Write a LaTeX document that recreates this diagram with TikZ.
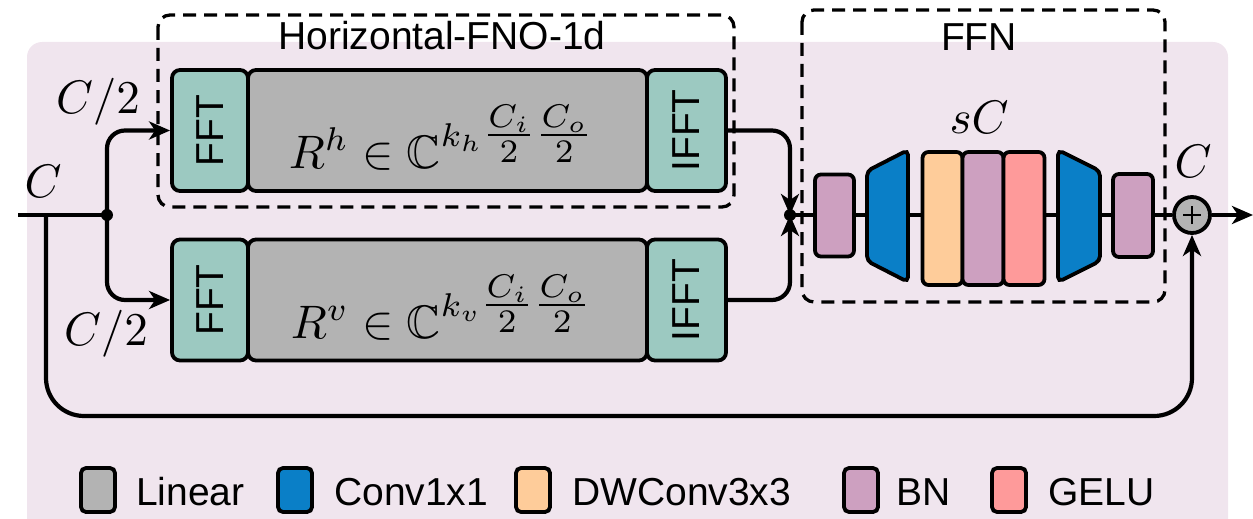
\documentclass[tikz,border=0pt]{standalone}
\usepackage{amsmath}
\usepackage{amssymb}
\usepackage{fontspec}
\newfontfamily\lsans{Liberation Sans}
\usetikzlibrary{arrows.meta}
\newcommand{\mbx}[1]{\scalebox{4.7}{$#1$}}
\definecolor{pinkbg}{HTML}{F0E5EE}
\definecolor{tealc}{HTML}{9CC9C1}
\definecolor{grayc}{HTML}{B3B3B3}
\definecolor{bluec}{HTML}{0A7FC7}
\definecolor{orangec}{HTML}{FECC9A}
\definecolor{bnc}{HTML}{CDA0C0}
\definecolor{geluc}{HTML}{FE9A9A}
\tikzset{
  blk/.style={draw, line width=3.8pt, rounded corners=8pt, inner sep=0pt},
  lbl/.style={font=\lsans\fontsize{39}{41}\selectfont, inner sep=0pt},
  mth/.style={font=\normalsize, inner sep=0pt},
  conn/.style={line width=4.2pt},
  arr/.style={conn, -{Stealth[length=21pt,width=18pt,inset=6pt]}},
  dbox/.style={draw, line width=3.3pt, dash pattern=on 13pt off 8pt, rounded corners=12pt},
  sw/.style={blk, rounded corners=5pt, minimum width=34pt, minimum height=44pt},
  dot/.style={circle, fill=black, inner sep=0pt, minimum size=12pt},
}
\begin{document}
\begin{tikzpicture}[x=1pt,y=-1pt]
\useasboundingbox (0,0) rectangle (1253,519);
% background
\fill[pinkbg, rounded corners=15pt] (27,42) rectangle (1228,560);
% dashed groups
\draw[dbox] (158,15) rectangle (734,207);
\node[lbl, anchor=base] (htitle) at (442,50) {Horizontal-FNO-1d};
\draw[dbox] (802,10) rectangle (1165,302);
\node[lbl, anchor=base] (ftitle) at (979,51) {FFN};

% top row
\node[blk, fill=tealc, minimum width=76pt, minimum height=121pt] (fft1) at (210,130.5) {};
\node[lbl, rotate=90] (fft1t) at (fft1.center) {FFT};
\node[blk, fill=grayc, minimum width=399pt, minimum height=121pt] (lin1) at (447.5,130.5) {};
\node[mth, anchor=base] (r1) at (442,168) {\mbx{R^h \in \mathbb{C}^{k_h \tfrac{C_i}{2}\tfrac{C_o}{2}}}};
\node[blk, fill=tealc, minimum width=79pt, minimum height=121pt] (ifft1) at (686.5,130.5) {};
\node[lbl, rotate=90] (ifft1t) at (ifft1.center) {IFFT};

% bottom row
\node[blk, fill=tealc, minimum width=76pt, minimum height=121pt] (fft2) at (210,300) {};
\node[lbl, rotate=90] (fft2t) at (fft2.center) {FFT};
\node[blk, fill=grayc, minimum width=399pt, minimum height=121pt] (lin2) at (447.5,300) {};
\node[mth, anchor=base] (r2) at (442,338) {\mbx{R^v \in \mathbb{C}^{k_v \tfrac{C_i}{2}\tfrac{C_o}{2}}}};
\node[blk, fill=tealc, minimum width=79pt, minimum height=121pt] (ifft2) at (686.5,300) {};
\node[lbl, rotate=90] (ifft2t) at (ifft2.center) {IFFT};

% input and split
\coordinate (in) at (18,215);
\coordinate (rs) at (46,215);
\node[dot] (jn1) at (107,215) {};
\draw[conn] (in) -- (jn1.center);
\draw[arr, rounded corners=18pt] (jn1.center) |- (fft1.west);
\draw[arr, rounded corners=18pt] (jn1.center) |- (fft2.west);
\node[mth] (c0) at (43,181) {\mbx{C}};
\node[mth] (c2a) at (98,102) {\mbx{C/2}};
\node[mth] (c2b) at (106,334) {\mbx{C/2}};

% merge
\node[dot] (jn2) at (790,215) {};
\draw[arr, rounded corners=18pt] (ifft1.east) -| (jn2.center);
\draw[arr, rounded corners=18pt] (ifft2.east) -| (jn2.center);

% FFN blocks
\node[blk, rounded corners=6pt, fill=bnc, minimum width=39pt, minimum height=82pt] (bn1) at (834.5,215.5) {};
\draw[blk, rounded corners=5pt, fill=bluec] (867,171) -- (908,150) -- (908,282) -- (867,261) -- cycle;
\coordinate (c1w) at (867,215);
\coordinate (c1e) at (908,215);
\node[blk, rounded corners=6pt, fill=orangec, minimum width=40pt, minimum height=133pt] (dw) at (942.5,218.5) {};
\node[blk, rounded corners=6pt, fill=bnc, minimum width=41pt, minimum height=133pt] (bn2) at (983,218.5) {};
\node[blk, rounded corners=6pt, fill=geluc, minimum width=41pt, minimum height=133pt] (gelu) at (1024,218.5) {};
\draw[blk, rounded corners=5pt, fill=bluec] (1058,150) -- (1100,171) -- (1100,261) -- (1058,282) -- cycle;
\coordinate (c2w) at (1058,215);
\coordinate (c2e) at (1100,215);
\node[blk, rounded corners=6pt, fill=bnc, minimum width=40pt, minimum height=83pt] (bn3) at (1133,215.5) {};
\node[mth] (sc) at (979,117) {\mbx{sC}};

\node[circle, draw, line width=3.8pt, fill=grayc, minimum size=36pt, inner sep=0pt] (plus) at (1192,215) {};
\draw[line width=2.5pt] ([xshift=-9pt]plus.center) -- ([xshift=9pt]plus.center);
\draw[line width=2.5pt] ([yshift=-9pt]plus.center) -- ([yshift=9pt]plus.center);
\node[mth] (cout) at (1193,161) {\mbx{C}};
\coordinate (out) at (1253,215);

\draw[conn] (jn2.center) -- (bn1.west |- jn2);
\draw[conn] (bn1.east |- jn2) -- (c1w);
\draw[conn] (c1e) -- (dw.west |- c1e);
\draw[conn] (gelu.east |- c2w) -- (c2w);
\draw[conn] (c2e) -- (bn3.west |- c2e);
\draw[conn] (bn3.east |- plus) -- (plus.west);
\draw[arr] (plus.east) -- (out);

% residual
\coordinate (rb) at (1192,416);
\draw[arr, rounded corners=38pt] (rs) |- (rb) -- (plus.south);

% legend
\node[sw, fill=grayc] (s1) at (98,490) {};
\node[lbl, anchor=base west] (t1) at (136,505) {Linear};
\node[sw, fill=bluec] (s2) at (295,490) {};
\node[lbl, anchor=base west] (t2) at (334,505) {Conv1x1};
\node[sw, fill=orangec] (s3) at (533,490) {};
\node[lbl, anchor=base west] (t3) at (572,505) {DWConv3x3};
\node[sw, fill=bnc] (s4) at (861,490) {};
\node[lbl, anchor=base west] (t4) at (896,505) {BN};
\node[sw, fill=geluc] (s5) at (1009,490) {};
\node[lbl, anchor=base west] (t5) at (1048,505) {GELU};
\end{tikzpicture}
\end{document}
